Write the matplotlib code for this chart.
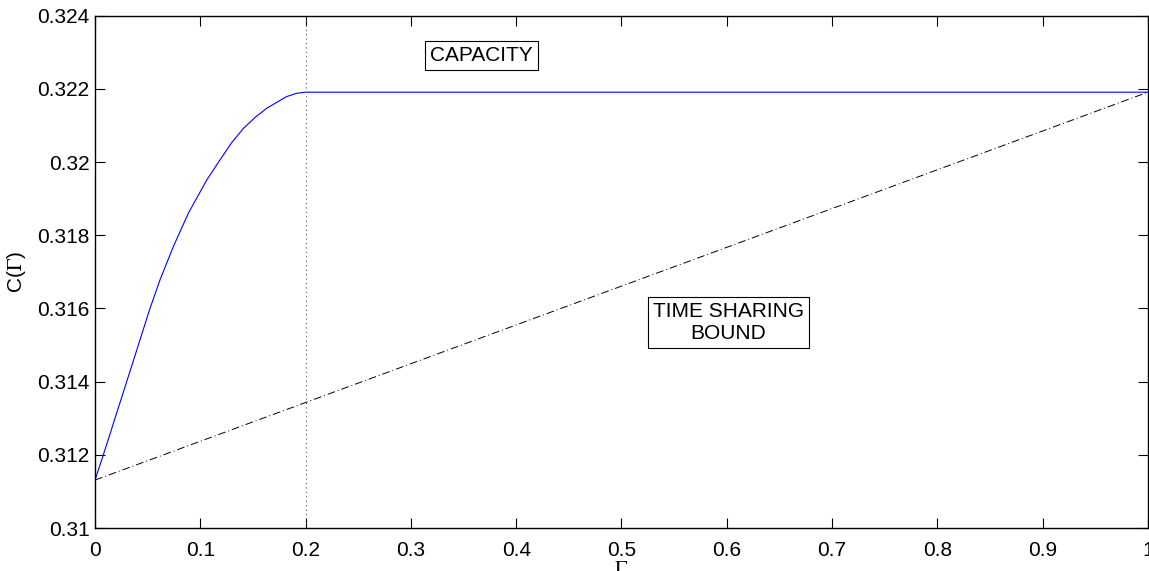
import numpy as np
import matplotlib
matplotlib.use('Agg')
import matplotlib.pyplot as plt

plt.rcParams['font.family'] = ['Liberation Sans', 'DejaVu Sans']
plt.rcParams['mathtext.fontset'] = 'stix'

# capacity curve
gamma_cap = [0.0, 0.0079, 0.0301, 0.0522, 0.0617, 0.0744, 0.0886, 0.1061,
             0.1187, 0.1298, 0.1409, 0.152, 0.163, 0.182, 0.1915, 0.2, 1.0]
cap = [0.31131, 0.3120, 0.3140, 0.3160, 0.31678, 0.31769, 0.3186, 0.31951,
       0.32006, 0.32053, 0.32092, 0.32122, 0.32147, 0.32179, 0.32188, 0.32191, 0.32191]

# time sharing bound (straight line between end points)
gamma_ts = [0.0, 1.0]
ts = [0.31131, 0.32191]

gamma_knee = 0.2

fig = plt.figure(figsize=(11.49, 5.71), dpi=100)
ax = fig.add_axes([0.0827, 0.0753, 0.9164, 0.8972])

ax.plot(gamma_cap, cap, color='#0000ff', lw=0.8)
ax.plot(gamma_ts, ts, color='black', lw=0.7, linestyle=(0, (8, 3, 1, 3)))
ax.axvline(gamma_knee, color='#555555', lw=0.8, linestyle=(0, (1, 3)))

ax.set_xlim(0, 1)
ax.set_ylim(0.31, 0.324)
ax.set_xticks(np.arange(0, 1.01, 0.1))
ax.set_xticklabels(['0', '0.1', '0.2', '0.3', '0.4', '0.5', '0.6', '0.7', '0.8', '0.9', '1'])
ax.set_yticks(np.arange(0.31, 0.32401, 0.002))
ax.set_yticklabels(['0.31', '0.312', '0.314', '0.316', '0.318', '0.32', '0.322', '0.324'])
ax.tick_params(direction='in', length=7, width=0.8, top=True, right=True,
               labelsize=15, pad=4)
ax.tick_params(axis='x', pad=9)
for s in ax.spines.values():
    s.set_linewidth(1.0)

ax.set_xlabel(r'$\Gamma$', fontsize=15)
ax.xaxis.set_label_coords(0.5, -0.062)
ax.set_ylabel(r'C($\Gamma$)', fontsize=15)
ax.yaxis.set_label_coords(-0.064, 0.5)

box = dict(boxstyle='square,pad=0.25', facecolor='white', edgecolor='black', lw=0.8)
ax.text(0.367, 0.32292, 'CAPACITY', ha='center', va='center', fontsize=15, bbox=box)
ax.text(0.6015, 0.31561, 'TIME SHARING\nBOUND', ha='center', va='center', fontsize=15,
        linespacing=1.2, bbox=box)

fig.savefig('out.png', dpi=100)
